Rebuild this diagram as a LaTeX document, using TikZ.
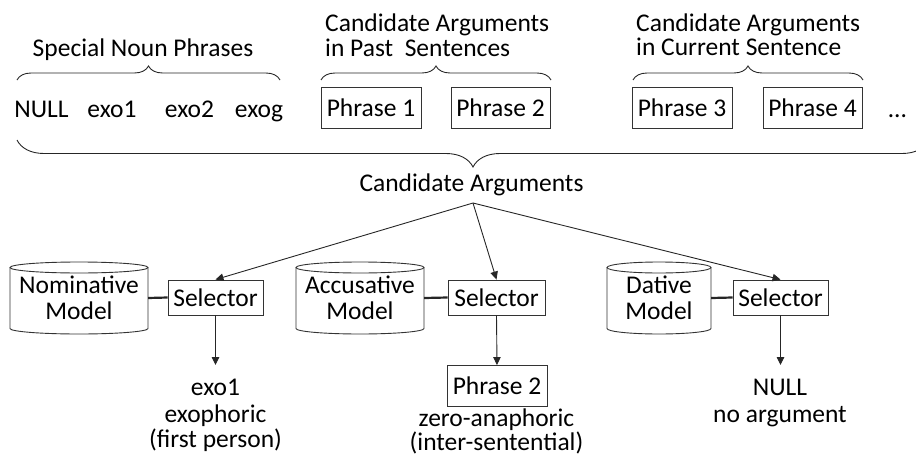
\documentclass[tikz,border=0pt]{standalone}
\usepackage{fontspec}
\setmainfont{Carlito}
\usetikzlibrary{arrows.meta,decorations.pathreplacing}
\begin{document}
\begin{tikzpicture}[x=1pt,y=1pt,
  every node/.style={font=\fontsize{25.5}{25.5}\selectfont, inner sep=0pt, text=black},
  lbl/.style={anchor=base},
  lblw/.style={anchor=base west},
  pbox/.style={draw=black!80, line width=0.9pt, minimum width=100pt, minimum height=41pt, text height=17.5pt, text depth=0pt},
  selbox/.style={draw=black!80, line width=0.9pt, minimum width=95pt, minimum height=35pt, text height=17.5pt, text depth=0pt},
  cyltext/.style={align=center, minimum height=72pt},
  brsmall/.style={decorate, decoration={brace, amplitude=14pt}, line width=0.9pt, draw=black!85},
  brbig/.style={decorate, decoration={brace, amplitude=27pt, mirror}, line width=0.9pt, draw=black!85},
  arr/.style={-{Triangle[length=8pt,width=7.5pt]}, line width=0.9pt, draw=black!85},
  link/.style={line width=2.2pt, draw=black!85},
  cylline/.style={draw=black!80, line width=0.9pt}
]
\useasboundingbox (0,0) rectangle (916,-455);

% top headings
\node[lbl] (snp) at (143,-56) {Special Noun Phrases};
\node[lblw] (capa) at (325,-31) {Candidate Arguments};
\node[lblw] (capb) at (325,-56) {in Past\ \ Sentences};
\node[lblw] (cacura) at (636,-31) {Candidate Arguments};
\node[lblw] (cacurb) at (636,-55) {in Current Sentence};

% small braces
\draw[brsmall] (17,-80) -- (280,-80);
\draw[brsmall] (321,-80) -- (551,-80);
\draw[brsmall] (633,-80) -- (863,-80);

% candidate row
\node[lbl] (nnull) at (41.5,-117) {NULL};
\node[lbl] (nexo1) at (112,-117) {exo1};
\node[lbl] (nexo2) at (189.5,-117) {exo2};
\node[lbl] (nexog) at (259,-117) {exog};
\node[pbox] (ph1) at (371,-107.5) {Phrase 1};
\node[pbox, minimum width=99pt] (ph2) at (500.5,-107.5) {Phrase 2};
\node[pbox] (ph3) at (682,-107.5) {Phrase 3};
\node[pbox, minimum width=99pt] (ph4) at (812.5,-107.5) {Phrase 4};
\node[lbl] (dots) at (897.5,-117) {…};

% big brace
\draw[brbig] (17,-140) -- (929,-140);
\node[lbl] (cand) at (471.5,-191) {Candidate Arguments};
\coordinate (apex) at (473,-203);

% cylinders
\draw[cylline] (10,-267.5) -- (10,-328.5) arc[start angle=180,end angle=360,x radius=69,y radius=5.5] -- (148,-267.5);
\draw[cylline] (79,-267.5) ellipse[x radius=69,y radius=5.5];
\node[cyltext, minimum width=138pt] (nom) at (79,-298) {Nominative\\Model};

\draw[cylline] (296,-267.5) -- (296,-328.5) arc[start angle=180,end angle=360,x radius=64,y radius=5.5] -- (424,-267.5);
\draw[cylline] (360,-267.5) ellipse[x radius=64,y radius=5.5];
\node[cyltext, minimum width=128pt] (acc) at (360,-298) {Accusative\\Model};

\draw[cylline] (607,-267.5) -- (607,-328.5) arc[start angle=180,end angle=360,x radius=52,y radius=5.5] -- (711,-267.5);
\draw[cylline] (659,-267.5) ellipse[x radius=52,y radius=5.5];
\node[cyltext, minimum width=104pt] (dat) at (659,-298) {Dative\\Model};

% selectors
\node[selbox] (sel1) at (215.5,-297.5) {Selector};
\node[selbox, minimum width=97pt] (sel2) at (496.5,-297.5) {Selector};
\node[selbox] (sel3) at (780.5,-297.5) {Selector};

\draw[link] (nom.east) -- (sel1.west);
\draw[link] (acc.east) -- (sel2.west);
\draw[link] (dat.east) -- (sel3.west);

\draw[arr] (apex) -- (sel1.north);
\draw[arr] (apex) -- (sel2.north);
\draw[arr] (apex) -- (sel3.north);

% outputs
\coordinate (end1) at (215.5,-365);
\coordinate (end3) at (780.5,-365);
\node[pbox] (ph2b) at (497,-386) {Phrase 2};
\draw[arr] (sel1.south) -- (end1);
\draw[arr] (sel2.south) -- (ph2b.north);
\draw[arr] (sel3.south) -- (end3);

\node[lbl] (o1a) at (215.5,-395) {exo1};
\node[lbl] (o1b) at (215.5,-422) {exophoric};
\node[lbl] (o1c) at (215.5,-447) {(first person)};
\node[anchor=north, align=center, font=\fontsize{25.5}{21.5}\selectfont] (o2) at (496.5,-408.5) {zero-anaphoric\\(inter-sentential)};
\node[lbl] (o3a) at (780,-395) {NULL};
\node[lbl] (o3b) at (780,-422) {no argument};
\end{tikzpicture}
\end{document}
